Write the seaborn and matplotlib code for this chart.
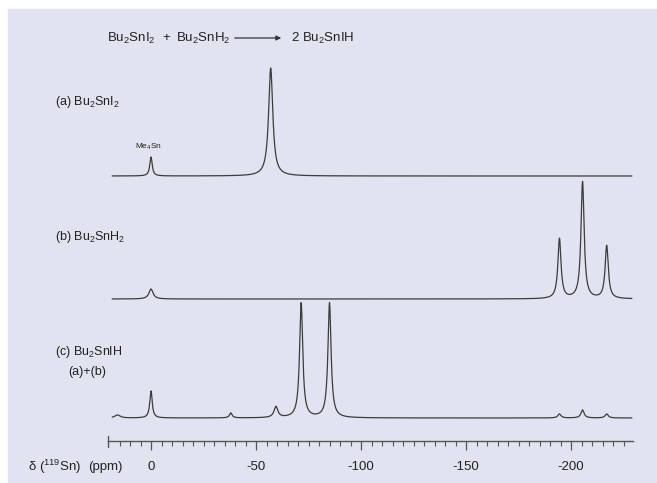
import numpy as np
import pandas as pd
import matplotlib
matplotlib.use("Agg")
import matplotlib.pyplot as plt
import seaborn as sns

# ---------------- data ----------------
# peak positions (ppm), heights (px above baseline), widths (FWHM, ppm)
a_pos = [0.0, -57.0]
a_hgt = [19, 108]
a_wid = [1.4, 2.4]

b_pos = [0.0, -194.5, -205.5, -217.0]
b_hgt = [10, 60, 117, 53]
b_wid = [2.4, 1.8, 1.8, 1.8]

c_pos = [16.0, 0.0, -38.0, -59.5, -71.5, -85.0, -194.5, -205.5, -217.0]
c_hgt = [3, 27, 5, 11, 115, 115, 4, 8, 4]
c_wid = [3.0, 1.4, 1.5, 2.2, 1.8, 1.8, 1.8, 1.8, 1.8]

major_ticks = [0, -50, -100, -150, -200]
tick_labels = ["0", "-50", "-100", "-150", "-200"]
minor_ticks = list(range(15, -230, -5))

# ---------------- layout ----------------
W, H = 657, 483
PX_PER_PPM = 2.1
X0 = 151.0            # pixel column of 0 ppm
BASE_A, BASE_B, BASE_C = 176, 299, 418
AXIS_Y = 441
BG = "#e1e3f0"
LINE = "#3c3c3c"
FS = 9

def px2ppm(px):
    return (X0 - px) / PX_PER_PPM

sns.set_theme(style="white")
plt.rcParams["font.family"] = ["Liberation Sans", "DejaVu Sans"]
plt.rcParams["mathtext.fontset"] = "custom"
plt.rcParams["mathtext.rm"] = "Liberation Sans"

fig = plt.figure(figsize=(W / 100, H / 100), dpi=100)
fig.patch.set_facecolor("white")
bgrect = plt.Rectangle((8 / W, 0), 1 - 8 / W, 1 - 9 / H,
                       transform=fig.transFigure, color=BG, zorder=-10)
fig.patches.append(bgrect)
ax = fig.add_axes([0, 0, 1, 1])
ax.set_zorder(5)
ax.set_facecolor("none")
ax.patch.set_alpha(0)

x = np.linspace(18.5, -229.0, 3000)

def spectrum(pos, hgt, wid, base):
    y = np.zeros_like(x)
    for p, h, w in zip(pos, hgt, wid):
        g = w / 2.0
        y += h * g ** 2 / ((x - p) ** 2 + g ** 2)
    return base - y

frames = []
for name, pos, hgt, wid, base in [("a", a_pos, a_hgt, a_wid, BASE_A),
                                  ("b", b_pos, b_hgt, b_wid, BASE_B),
                                  ("c", c_pos, c_hgt, c_wid, BASE_C)]:
    frames.append(pd.DataFrame({"ppm": x, "y": spectrum(pos, hgt, wid, base),
                                "trace": name}))
df = pd.concat(frames, ignore_index=True)

sns.lineplot(data=df, x="ppm", y="y", units="trace", estimator=None,
             color=LINE, linewidth=0.9, ax=ax, sort=False, legend=False)

ax.set_xlim(px2ppm(0), px2ppm(W))
ax.set_ylim(H, 0)

# ---------------- axis ----------------
for s in ["top", "left", "right"]:
    ax.spines[s].set_visible(False)
ax.spines["bottom"].set_visible(True)
ax.spines["bottom"].set_position(("data", AXIS_Y))
ax.spines["bottom"].set_bounds(px2ppm(108), px2ppm(633))
ax.spines["bottom"].set_color("#555555")
ax.spines["bottom"].set_linewidth(1.0)
ax.set_xticks(major_ticks)
ax.set_xticklabels(tick_labels)
ax.set_xticks(minor_ticks, minor=True)
ax.tick_params(axis="x", which="major", direction="out", length=6.5, width=0.9,
               color="#555555", pad=8, labelsize=9.5, labelcolor="#222222",
               bottom=True)
ax.tick_params(axis="x", which="minor", direction="out", length=3.8, width=0.8,
               color="#555555", bottom=True)
ax.set_yticks([])
ax.set_xlabel("")
ax.set_ylabel("")
ax.plot([px2ppm(108), px2ppm(108)], [AXIS_Y - 5, AXIS_Y + 6], color="#555555", lw=1.0)

# ---------------- texts ----------------
def ftext(px, py, s, **kw):
    kw.setdefault("fontsize", FS)
    kw.setdefault("color", "#222222")
    kw.setdefault("va", "center")
    kw.setdefault("ha", "left")
    fig.text(px / W, 1 - py / H, s, **kw)

ftext(107, 38, r"Bu$\mathregular{_2}$SnI$\mathregular{_2}$", fontsize=9.5)
ftext(162, 38, "+", fontsize=9.5)
ftext(176, 38, r"Bu$\mathregular{_2}$SnH$\mathregular{_2}$", fontsize=9.5)
ax.annotate("", xy=(px2ppm(284), 38), xytext=(px2ppm(232), 38),
            arrowprops=dict(arrowstyle="-|>", color="#333333", lw=0.9,
                            mutation_scale=7))
ftext(291, 38, r"2 Bu$\mathregular{_2}$SnIH", fontsize=9.5)

ftext(55, 102, r"(a) Bu$\mathregular{_2}$SnI$\mathregular{_2}$")
ftext(55, 237, r"(b) Bu$\mathregular{_2}$SnH$\mathregular{_2}$")
ftext(55, 352, r"(c) Bu$\mathregular{_2}$SnIH")
ftext(68, 372, "(a)+(b)")
ftext(148, 147, r"Me$\mathregular{_4}$Sn", fontsize=6, ha="center")

ftext(28, 467, r"δ ($\mathregular{^{119}}$Sn)", fontsize=9.5)
ftext(88, 467, "(ppm)", fontsize=9.5)

fig.savefig("out.png", dpi=100, facecolor="white")
